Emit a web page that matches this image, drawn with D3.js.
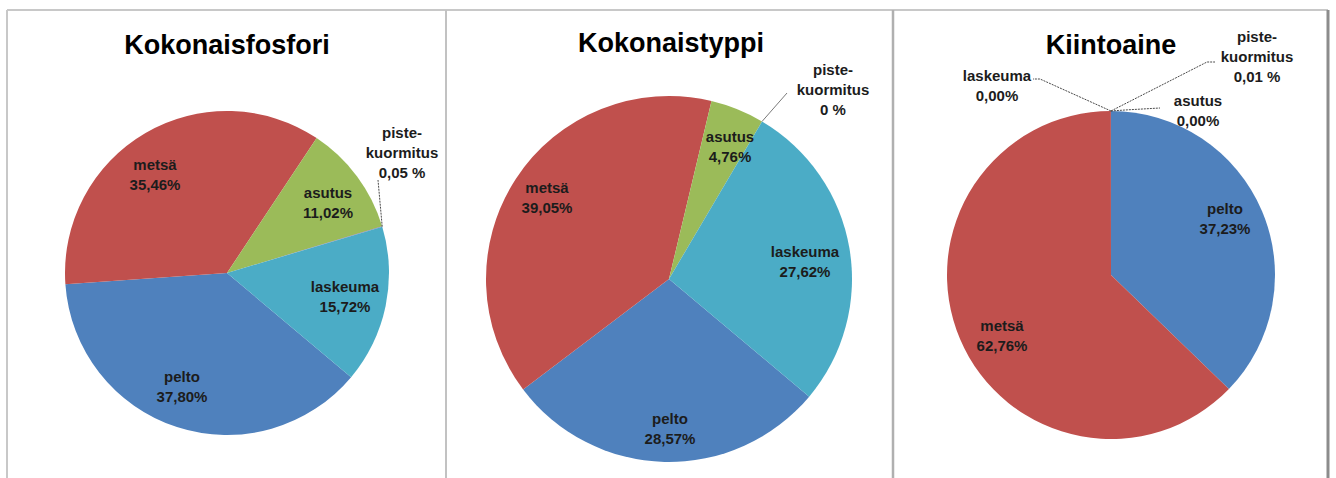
<!DOCTYPE html>
<html>
<head>
<meta charset="utf-8">
<script src="https://d3js.org/d3.v7.min.js"></script>
<style>
    body { margin: 0; background: #fff; }
    svg { display: block; font-family: "Liberation Sans", Arial, sans-serif; }
    .slice-label { font-size: 15px; font-weight: bold; fill: #1c1c1c; }
    .chart-title { font-size: 27px; font-weight: bold; fill: #000; }
</style>
</head>
<body>
<div id="chart-container"></div>
<script>

// data, same order for every pie (clockwise)
var categories = ["pelto", "metsä", "asutus", "piste-kuormitus", "laskeuma"];
var titles = ["Kokonaisfosfori", "Kokonaistyppi", "Kiintoaine"];

var fosforiValues = [37.80, 35.46, 11.02, 0.05, 15.72];
var typpiValues = [28.57, 39.05, 4.76, 0, 27.62];
var kiintoValues = [37.23, 62.76, 0.00, 0.01, 0.00];

var fosforiLabels = ["37,80%", "35,46%", "11,02%", "0,05 %", "15,72%"];
var typpiLabels = ["28,57%", "39,05%", "4,76%", "0 %", "27,62%"];
var kiintoLabels = ["37,23%", "62,76%", "0,00%", "0,01 %", "0,00%"];

var colors = ["#4f81bd", "#c0504d", "#9bbb59", "#8064a2", "#4bacc6"];

// layout of the three panels (label offsets are relative to the pie center)
var charts = [
    {
        title: titles[0], values: fosforiValues, labels: fosforiLabels,
        cx: 227, cy: 273, r: 162, start: 130, titleX: 227, titleY: 54,
        pos: [[-45, 114], [-72, -98], [101, -70], [175, -120], [118, 24]],
        leaders: { 3: [[151, -93]] }, dashed: true
    },
    {
        title: titles[1], values: typpiValues, labels: typpiLabels,
        cx: 669, cy: 279, r: 183, start: 130, titleX: 671, titleY: 52,
        pos: [[1, 150], [-122, -81], [61, -132], [164, -189], [136, -17]],
        leaders: { 3: [[118, -186]] }, dashed: false
    },
    {
        title: titles[2], values: kiintoValues, labels: kiintoLabels,
        cx: 1111, cy: 275, r: 164, start: 0, titleX: 1111, titleY: 54,
        pos: [[114, -56], [-109, 61], [87, -164], [146, -218], [-114, -189]],
        leaders: { 2: [[14, -165], [49, -167]], 3: [[96, -213], [104, -213]], 4: [[-71, -196], [-78, -196]] },
        dashed: true
    }
];

var width = 1336,
    height = 478;

var svg = d3.select("#chart-container")
    .append("svg")
    .attr("width", width)
    .attr("height", height);

// panel frames
var frameLines = [
    [7, 10, 1328, 10, "#c8c8c8", 2],
    [7, 10, 7, height, "#c8c8c8", 2],
    [446, 10, 446, height, "#c2c2c2", 2],
    [893, 10, 893, height, "#b0b0b0", 2.5],
    [1328, 10, 1328, height, "#8c8c8c", 3]
];

svg.selectAll("line.frame")
    .data(frameLines)
    .enter()
    .append("line")
    .classed("frame", true)
    .attr("x1", function (d) { return d[0]; })
    .attr("y1", function (d) { return d[1]; })
    .attr("x2", function (d) { return d[2]; })
    .attr("y2", function (d) { return d[3]; })
    .style("stroke", function (d) { return d[4]; })
    .style("stroke-width", function (d) { return d[5]; });

var color = d3.scaleOrdinal()
    .domain(categories)
    .range(colors);

charts.forEach(drawPie);

function drawPie(chart) {
    var pie = d3.pie()
        .sort(null)
        .value(function (d) { return d.value; })
        .startAngle(chart.start * Math.PI / 180)
        .endAngle(chart.start * Math.PI / 180 + 2 * Math.PI);

    var arc = d3.arc()
        .innerRadius(0)
        .outerRadius(chart.r);

    var edge = d3.arc()
        .innerRadius(chart.r)
        .outerRadius(chart.r);

    var data = categories.map(function (c, i) {
        return { name: c, value: chart.values[i], label: chart.labels[i], index: i };
    });

    var g = svg.append("g")
        .attr("transform", "translate(" + chart.cx + "," + chart.cy + ")");

    var arcs = pie(data);

    g.selectAll("path")
        .data(arcs)
        .enter()
        .append("path")
        .attr("d", arc)
        .style("fill", function (d) { return color(d.data.name); });

    // leader lines for the small slices
    Object.keys(chart.leaders).forEach(function (k) {
        var a = arcs[+k],
            pts = [edge.centroid(a)].concat(chart.leaders[k]);
        g.append("path")
            .attr("d", d3.line()(pts))
            .style("fill", "none")
            .style("stroke", chart.dashed ? "#4a4a4a" : "#7a7a7a")
            .style("stroke-width", 1)
            .style("stroke-dasharray", chart.dashed ? "2,1" : null);
    });

    // labels
    var labels = g.selectAll("text.slice-label")
        .data(arcs)
        .enter()
        .append("text")
        .classed("slice-label", true)
        .attr("text-anchor", "middle")
        .attr("transform", function (d) {
            var p = chart.pos[d.data.index];
            return "translate(" + p[0] + "," + p[1] + ")";
        });

    labels.each(function (d) {
        var lines = d.data.name === "piste-kuormitus"
            ? ["piste-", "kuormitus", d.data.label]
            : [d.data.name, d.data.label];
        var top = -(lines.length - 1) * 20 / 2;
        d3.select(this).selectAll("tspan")
            .data(lines)
            .enter()
            .append("tspan")
            .attr("x", 0)
            .attr("y", function (t, i) { return top + i * 20; })
            .attr("dy", "0.35em")
            .text(function (t) { return t; });
    });

    svg.append("text")
        .classed("chart-title", true)
        .attr("x", chart.titleX)
        .attr("y", chart.titleY)
        .attr("text-anchor", "middle")
        .text(chart.title);
}
</script>
</body>
</html>
